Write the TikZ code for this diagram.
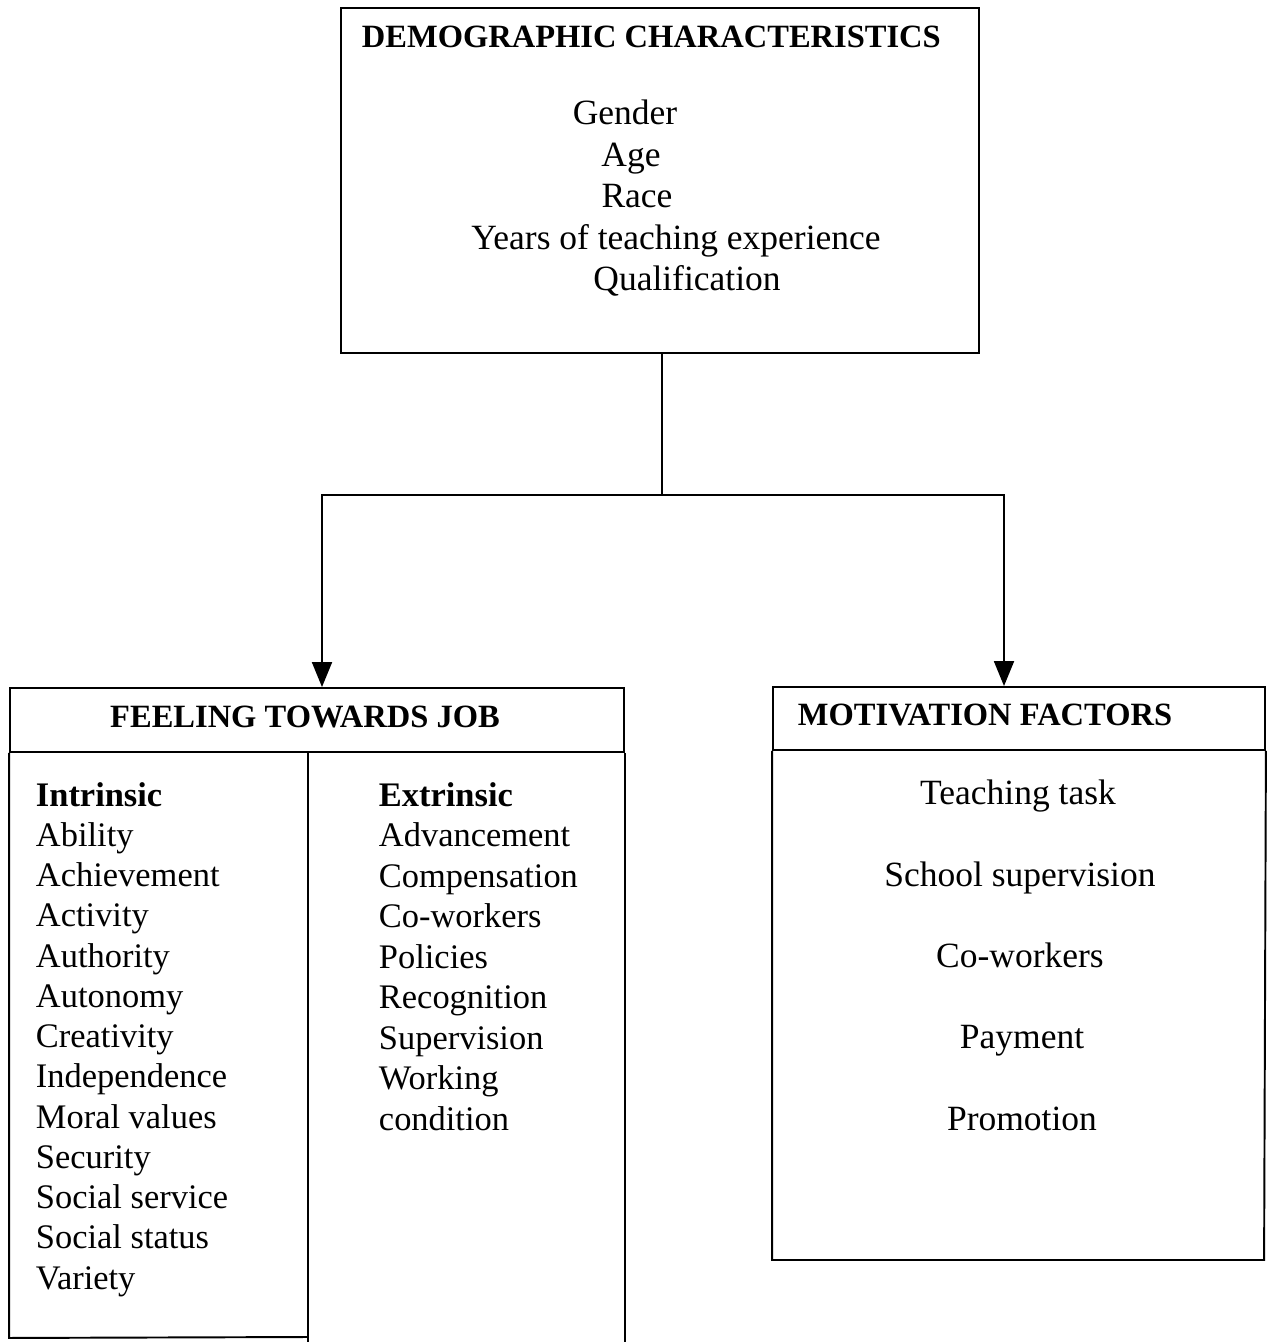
\documentclass[tikz,border=0pt]{standalone}
\usepackage{fontspec}
\setmainfont{Liberation Serif}
\usetikzlibrary{arrows.meta}

\def\headsize{\fontsize{18.5}{22}\selectfont\bfseries}
\def\itemsize{\fontsize{19.6}{24}\selectfont}
\def\topsize{\fontsize{20.2}{24}\selectfont}

\begin{document}
\begin{tikzpicture}[x=0.02cm, y=-0.02cm, line width=1.1pt,
    nodes = {inner sep=0pt},
    box/.style = {draw, rectangle},
    title/.style = {font=\headsize},
    item/.style = {font=\itemsize},
    arrow/.style = {-{Triangle[length=0.5cm, width=0.4cm]}}]
  \useasboundingbox (0,0) rectangle (1269,1342);

  % top box
  \node[box, minimum width=12.76cm, minimum height=6.9cm] (demo) at (660,180.5) {};
  \node[title, anchor=base west] (demotitle) at (361,47) {DEMOGRAPHIC CHARACTERISTICS};
  \foreach \x/\y/\name [count=\i] in {
      625/124/Gender,
      631/166/Age,
      637/207/Race,
      676/249/Years of teaching experience,
      687/290/Qualification,
    } {
      \node[item, font=\topsize, anchor=base] (demo\i) at (\x,\y) {\name};
    };

  % feeling towards job
  \node[box, minimum width=12.28cm, minimum height=1.28cm] (feelhead) at (317,720) {};
  \node[title, anchor=base] (feeltitle) at (305,727) {FEELING TOWARDS JOB};
  \draw (feelhead.south west) -- ++(0,585) -- (308,1337);
  \draw (308,752) -- (308,1342);
  \draw (feelhead.south east) -- ++(0,590);
  \foreach \name [count=\i] in {
      \textbf{Intrinsic}, Ability, Achievement, Activity, Authority, Autonomy,
      Creativity, Independence, Moral values, Security, Social service,
      Social status, Variety
    } {
      \node[item, anchor=base west] (in\i) at (35,806+40.25*\i-40.25) {\name};
    };
  \foreach \name [count=\i] in {
      \textbf{Extrinsic}, Advancement, Compensation, Co-workers, Policies,
      Recognition, Supervision, Working, condition
    } {
      \node[item, anchor=base west] (ex\i) at (378,806+40.5*\i-40.5) {\name};
    };

  % motivation factors
  \node[box, minimum width=9.84cm, minimum height=1.26cm] (motivhead) at (1019,718.5) {};
  \node[title, anchor=base west] (motivtitle) at (797,725) {MOTIVATION FACTORS};
  \draw (motivhead.south west) -- ++(0,509) -- ++(492,0) -- (motivhead.south east);
  \foreach \x/\y/\name [count=\i] in {
      1018/804/Teaching task,
      1020/886/School supervision,
      1020/967/Co-workers,
      1022/1048/Payment,
      1022/1130/Promotion,
    } {
      \node[item, font=\topsize, anchor=base] (mot\i) at (\x,\y) {\name};
    };

  % connectors
  \coordinate (branch) at (662,495);
  \draw ([xshift=0.04cm]demo.south) -- (branch);
  \draw[arrow] (branch) -| ([xshift=0.1cm]feelhead.north);
  \draw[arrow] (branch) -| ([xshift=-0.3cm]motivhead.north);
\end{tikzpicture}
\end{document}
